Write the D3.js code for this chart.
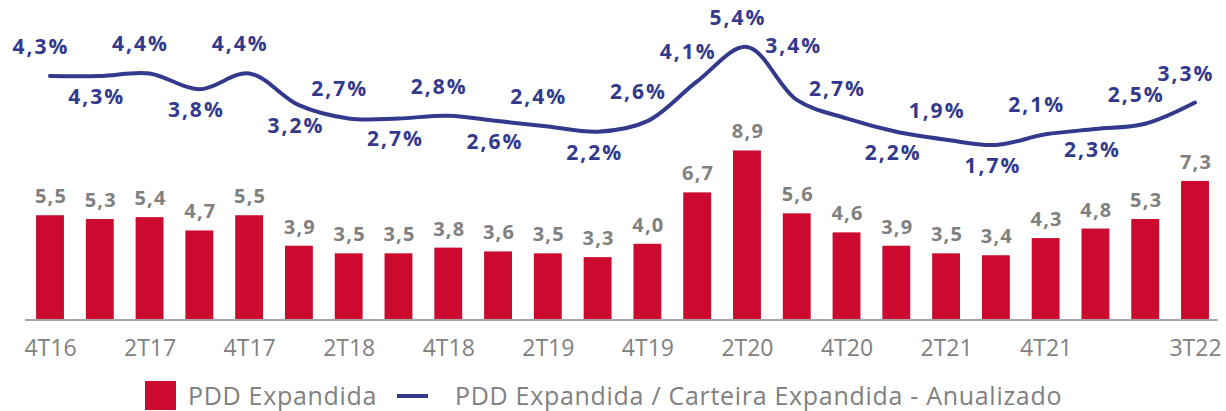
<!DOCTYPE html>
<html>
<head>
<meta charset="utf-8">
<script src="https://cdn.jsdelivr.net/npm/d3@7"></script>
<style>
  body { margin: 0; background: #fff; }
  svg { display: block; }
</style>
</head>
<body>
<svg id="chart"></svg>
<script>
// quarters (all bars), only some get an axis label
const quarters = ['4T16','1T17','2T17','3T17','4T17','1T18','2T18','3T18','4T18','1T19','2T19','3T19',
                  '4T19','1T20','2T20','3T20','4T20','1T21','2T21','3T21','4T21','1T22','2T22','3T22'];
const shownTicks = ['4T16','2T17','4T17','2T18','4T18','2T19','4T19','2T20','4T20','2T21','4T21','3T22'];

// PDD Expandida (bars)
const pdd = [5.5,5.3,5.4,4.7,5.5,3.9,3.5,3.5,3.8,3.6,3.5,3.3,4.0,6.7,8.9,5.6,4.6,3.9,3.5,3.4,4.3,4.8,5.3,7.3];
// PDD Expandida / Carteira Expandida - Anualizado (line, %)
const ratio = [4.3,4.3,4.4,3.8,4.4,3.2,2.7,2.7,2.8,2.6,2.4,2.2,2.6,4.1,5.4,3.4,2.7,2.2,1.9,1.7,2.1,2.3,2.5,3.3];
// where each line label sits: above, below, or well above
const ratioLabelPos = ['up','down','up','down','up','down','up','down','up','down','up','down',
                       'up','up','up','high','up','down','up','down','up','down','up','up'];

const legendItems = ['PDD Expandida', 'PDD Expandida / Carteira Expandida - Anualizado'];

const W = 1226, H = 411;
const barColor = '#cc0a2f', lineColor = '#33398c', grey = '#808080';

const svg = d3.select('#chart').attr('width', W).attr('height', H);

const x = d3.scalePoint().domain(quarters).range([50, 1195]);
const barW = x.step() * 0.56;
const baseY = 320;
const yBar = d3.scaleLinear().domain([0, 10]).range([baseY, baseY - 190.5]);
const yLine = d3.scaleLinear().domain([0, 6]).range([190, 31]);

const fmt = v => d3.format('.1f')(v).replace('.', ',');

// bars
svg.append('g').selectAll('rect')
  .data(pdd)
  .join('rect')
  .attr('x', (d, i) => x(quarters[i]) - barW / 2)
  .attr('y', d => yBar(d))
  .attr('width', barW)
  .attr('height', d => baseY - yBar(d))
  .attr('fill', barColor);

svg.append('g').selectAll('text')
  .data(pdd)
  .join('text')
  .attr('x', (d, i) => x(quarters[i]) + 1)
  .attr('y', d => yBar(d) - 12)
  .attr('text-anchor', 'middle')
  .style('font-family', '"Open Sans", sans-serif')
  .style('font-weight', 700)
  .style('font-size', '20px')
  .style('letter-spacing', '1.2px')
  .attr('fill', grey)
  .text(d => fmt(d));

// x axis
const xAxis = d3.axisBottom(x)
  .tickValues(shownTicks)
  .tickSize(0)
  .tickPadding(0);
const axisG = svg.append('g')
  .attr('transform', `translate(0, ${baseY})`)
  .call(xAxis);
axisG.select('.domain').remove();
axisG.append('line')
  .attr('x1', 25).attr('x2', 1218)
  .attr('stroke', '#a6a6a6').attr('stroke-width', 2);
axisG.selectAll('.tick text')
  .attr('y', 36)
  .attr('dy', 0)
  .style('font-family', '"Open Sans", sans-serif')
  .style('font-size', '23px')
  .attr('fill', grey);

// line
const line = d3.line()
  .x((d, i) => x(quarters[i]))
  .y(d => yLine(d))
  .curve(d3.curveCatmullRom.alpha(0.5));

svg.append('path')
  .datum(ratio)
  .attr('d', line)
  .attr('fill', 'none')
  .attr('stroke', lineColor)
  .attr('stroke-width', 4)
  .attr('stroke-linecap', 'round');

const labelDy = { up: -22, down: 28, high: -47 };
const labelDx = { up: -9, down: -3, high: -3 };
svg.append('g').selectAll('text')
  .data(ratio)
  .join('text')
  .attr('x', (d, i) => x(quarters[i]) + labelDx[ratioLabelPos[i]])
  .attr('y', (d, i) => yLine(d) + labelDy[ratioLabelPos[i]])
  .attr('text-anchor', 'middle')
  .style('font-family', '"Open Sans", sans-serif')
  .style('font-weight', 700)
  .style('font-size', '21px')
  .style('letter-spacing', '2px')
  .attr('fill', lineColor)
  .text(d => fmt(d) + '%');

// legend
const legend = svg.append('g');
legend.append('rect')
  .attr('x', 145).attr('y', 381)
  .attr('width', 31).attr('height', 29)
  .attr('fill', barColor);
legend.append('text')
  .attr('x', 188).attr('y', 405)
  .style('font-family', '"Open Sans", sans-serif')
  .style('font-size', '25px')
  .style('letter-spacing', '0.7px')
  .attr('fill', grey)
  .text(legendItems[0]);
legend.append('line')
  .attr('x1', 397).attr('x2', 428)
  .attr('y1', 396).attr('y2', 396)
  .attr('stroke', lineColor).attr('stroke-width', 4);
legend.append('text')
  .attr('x', 455).attr('y', 405)
  .style('font-family', '"Open Sans", sans-serif')
  .style('font-size', '25px')
  .style('letter-spacing', '0.7px')
  .attr('fill', grey)
  .text(legendItems[1]);
</script>
</body>
</html>
